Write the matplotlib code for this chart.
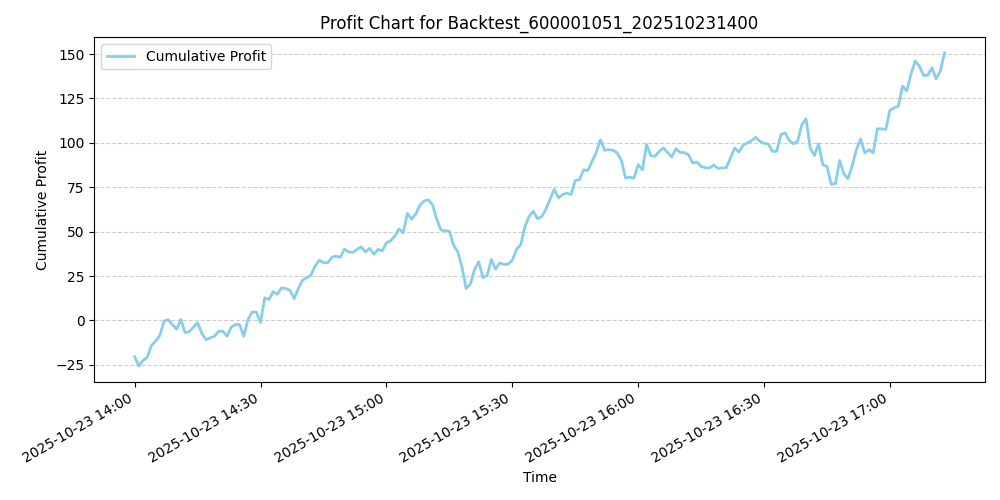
import pandas as pd
import matplotlib
matplotlib.use("Agg")
import matplotlib.pyplot as plt
import matplotlib.dates as mdates

# --- Data (cumulative profit, one value per minute from 14:00) ---
start_time = "2025-10-23 14:00"
profit = [
    -20.4, -25.6, -22.6, -20.7, -14.1, -11.7, -8.5, -0.4, 0.4, -2.3,
    -4.9, 0.6, -6.8, -6.4, -3.8, -1.3, -7.2, -10.9, -9.8, -9.0,
    -6.2, -6.0, -8.9, -3.8, -2.3, -2.3, -9.0, 0.4, 4.7, 4.7,
    -1.1, 12.8, 11.7, 16.2, 14.7, 18.3, 17.9, 17.0, 12.3, 17.9,
    22.6, 24.1, 25.5, 30.5, 33.9, 32.6, 32.4, 35.5, 36.2, 35.5,
    40.2, 38.5, 38.3, 40.0, 41.5, 38.6, 40.6, 37.3, 40.0, 39.2,
    43.7, 44.9, 47.5, 51.5, 49.4, 60.3, 57.1, 60.0, 65.0, 67.3,
    67.9, 65.0, 57.0, 50.9, 50.5, 50.2, 42.4, 38.6, 30.2, 17.9,
    20.4, 28.7, 33.0, 24.1, 25.3, 34.3, 28.8, 32.4, 31.5, 31.7,
    33.9, 40.0, 42.6, 52.8, 58.4, 61.5, 57.3, 58.4, 62.6, 68.3,
    73.9, 69.0, 70.9, 71.7, 70.9, 78.8, 79.2, 84.8, 84.4, 89.5,
    94.6, 101.8, 95.8, 96.2, 95.8, 94.3, 90.1, 80.1, 80.7, 80.1,
    87.7, 84.8, 99.0, 92.8, 92.4, 95.2, 97.1, 94.6, 92.0, 96.7,
    94.6, 94.5, 93.3, 88.6, 89.2, 86.7, 86.0, 85.8, 87.5, 85.6,
    85.8, 86.1, 91.5, 97.1, 94.8, 98.6, 99.9, 101.2, 103.1, 100.9,
    99.7, 99.4, 95.2, 95.2, 104.6, 105.6, 101.4, 99.4, 100.9, 110.3,
    113.5, 97.1, 92.8, 99.5, 87.7, 86.7, 76.7, 76.9, 90.1, 82.6,
    79.8, 87.1, 96.2, 102.2, 94.3, 96.2, 94.3, 107.9, 107.9, 107.5,
    118.4, 119.7, 120.7, 132.0, 129.2, 138.6, 146.1, 143.3, 138.0, 138.0,
    142.2, 136.1, 140.4, 150.6,
]

times = pd.date_range(start_time, periods=len(profit), freq="1min")
df = pd.DataFrame({"time": times, "profit": profit})

# --- Plot ---
fig, ax = plt.subplots(figsize=(10, 5), dpi=100)
ax.plot(df["time"], df["profit"], color="skyblue", linewidth=2, label="Cumulative Profit")

ax.set_title("Profit Chart for Backtest_600001051_202510231400")
ax.set_xlabel("Time")
ax.set_ylabel("Cumulative Profit")
ax.grid(axis="y", linestyle="--", alpha=0.6)
ax.legend(loc="upper left")

ax.xaxis.set_major_locator(mdates.MinuteLocator(byminute=[0, 30]))
ax.xaxis.set_major_formatter(mdates.DateFormatter("%Y-%m-%d %H:%M"))
fig.autofmt_xdate()

plt.tight_layout()
plt.savefig("out.png")
